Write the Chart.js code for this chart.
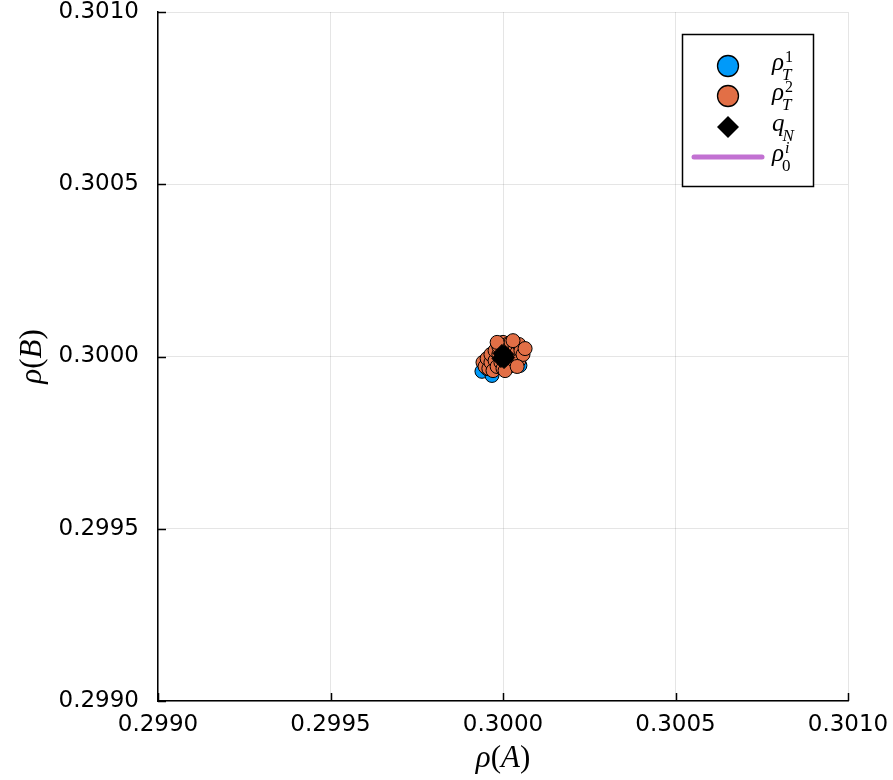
<!DOCTYPE html>
<html>
<head>
<meta charset="utf-8">
<script src="https://cdn.jsdelivr.net/npm/chart.js@4/dist/chart.umd.min.js"></script>
<style>
  html, body { margin: 0; padding: 0; background: #ffffff; }
  canvas { display: block; }
</style>
</head>
<body>
<canvas id="c" width="893" height="780"></canvas>
<script>
// Final-time densities of the two runs, the N-point estimate and the initial state
const rho1X = [0.299939, 0.299968, 0.300049, 0.299954, 0.300000, 0.300023, 0.299983, 0.300035];
const rho1Y = [0.299957, 0.299945, 0.299974, 0.299965, 0.299977, 0.300000, 0.300012, 0.299983];

const rho2X = [0.299942, 0.299948, 0.299954, 0.299959, 0.299965, 0.299965, 0.299971, 0.299977, 0.299977, 0.299983,
               0.299988, 0.299988, 0.299994, 0.300000, 0.300000, 0.300006, 0.300012, 0.300012, 0.300017, 0.300023,
               0.300023, 0.300029, 0.300035, 0.300035, 0.300041, 0.300046, 0.300046, 0.300052, 0.300058, 0.300064,
               0.299983, 0.300006, 0.300029, 0.300041];
const rho2Y = [0.299983, 0.299971, 0.299994, 0.299965, 0.299983, 0.300006, 0.299959, 0.299988, 0.300017, 0.299971,
               0.300006, 0.300029, 0.299983, 0.300041, 0.299965, 0.300012, 0.299988, 0.300035, 0.299971, 0.300017,
               0.300041, 0.299994, 0.300029, 0.299977, 0.300012, 0.300035, 0.299988, 0.300017, 0.300006, 0.300023,
               0.300041, 0.299959, 0.300046, 0.299971];

const qNX = [0.300000, 0.300006, 0.299994, 0.300003, 0.299997, 0.300008];
const qNY = [0.300000, 0.300006, 0.299994, 0.299991, 0.300009, 0.299997];

const rho0X = [0.300000, 0.300000];
const rho0Y = [0.300000, 0.300000];

const xTicks = [0.2990, 0.2995, 0.3000, 0.3005, 0.3010];
const yTicks = [0.2990, 0.2995, 0.3000, 0.3005, 0.3010];

const seriesLabels = [
  { base: 'ρ', sup: '1', sub: 'T' },
  { base: 'ρ', sup: '2', sub: 'T' },
  { base: 'q', sup: '', sub: 'N' },
  { base: 'ρ', sup: 'i', sub: '0' }
];

const BLUE = '#009af9', ORANGE = '#e26f46', BLACK = '#000000', PURPLE = '#c271d2';

const pts = (xs, ys) => xs.map((x, i) => ({ x: x, y: ys[i] }));

const TICK_FONT = { family: 'DejaVu Sans', size: 23, lineHeight: 1 };

const noPad = s => { s.paddingTop = 0; s.paddingBottom = 0; s.paddingLeft = 0; s.paddingRight = 0; };

// Inward ticks, axis titles and the legend box
const decorations = {
  id: 'decorations',
  afterDraw(chart) {
    const ctx = chart.ctx;
    const xs = chart.scales.x, ys = chart.scales.y;
    const area = chart.chartArea;
    ctx.save();
    ctx.strokeStyle = '#000';
    ctx.lineWidth = 1.5;
    ctx.beginPath();
    xTicks.forEach(v => {
      const p = Math.round(xs.getPixelForValue(v)) + 0.5;
      ctx.moveTo(p, area.bottom);
      ctx.lineTo(p, area.bottom - 8);
    });
    yTicks.forEach(v => {
      const p = Math.round(ys.getPixelForValue(v)) + 0.5;
      ctx.moveTo(area.left, p);
      ctx.lineTo(area.left + 8, p);
    });
    ctx.stroke();

    // axis titles: italic symbol, upright parentheses
    const drawMath = (parts, cx, cy) => {
      let total = 0;
      parts.forEach(p => { ctx.font = p[1]; total += ctx.measureText(p[0]).width; });
      let x = cx - total / 2;
      ctx.textBaseline = 'middle';
      ctx.textAlign = 'left';
      parts.forEach(p => { ctx.font = p[1]; ctx.fillText(p[0], x, cy); x += ctx.measureText(p[0]).width; });
    };
    const IT = 'italic 31px "Liberation Serif"', UP = '31px "Liberation Serif"';
    ctx.fillStyle = '#000';
    drawMath([['ρ', IT], ['(', UP], ['A', IT], [')', UP]], (area.left + area.right) / 2, 759);
    ctx.save();
    ctx.translate(33, (area.top + area.bottom) / 2);
    ctx.rotate(-Math.PI / 2);
    drawMath([['ρ', IT], ['(', UP], ['B', IT], [')', UP]], 0, 0);
    ctx.restore();

    // legend
    const bx = 682.5, by = 34.5, bw = 131, bh = 152;
    ctx.fillStyle = '#fff';
    ctx.fillRect(bx, by, bw, bh);
    ctx.lineWidth = 1.5;
    ctx.strokeStyle = '#000';
    ctx.strokeRect(bx, by, bw, bh);
    const rows = [66, 96, 127, 157];
    const mx = 728;
    chart.data.datasets.forEach((ds, i) => {
      const cy = rows[i];
      if (i < 2) {
        ctx.beginPath();
        ctx.arc(mx, cy, 10.5, 0, Math.PI * 2);
        ctx.fillStyle = ds.backgroundColor;
        ctx.fill();
        ctx.lineWidth = 1.3;
        ctx.strokeStyle = '#000';
        ctx.stroke();
      } else if (i === 2) {
        ctx.beginPath();
        ctx.moveTo(mx - 11, cy); ctx.lineTo(mx, cy - 11); ctx.lineTo(mx + 11, cy); ctx.lineTo(mx, cy + 11);
        ctx.closePath();
        ctx.fillStyle = '#000';
        ctx.fill();
      } else {
        ctx.beginPath();
        ctx.moveTo(694, cy); ctx.lineTo(762, cy);
        ctx.lineWidth = 5;
        ctx.lineCap = 'round';
        ctx.strokeStyle = ds.borderColor;
        ctx.stroke();
      }
      const lab = seriesLabels[i];
      ctx.fillStyle = '#000';
      ctx.textAlign = 'left';
      ctx.textBaseline = 'alphabetic';
      ctx.font = 'italic 25px "Liberation Serif"';
      ctx.fillText(lab.base, 772, cy + 4);
      const w = ctx.measureText(lab.base).width;
      if (lab.sup) {
        ctx.font = (lab.sup === 'i' ? 'italic ' : '') + '16px "Liberation Serif"';
        ctx.fillText(lab.sup, 772 + w + 1, cy - 4);
      }
      ctx.font = (/[A-Z]/.test(lab.sub) ? 'italic ' : '') + '17px "Liberation Serif"';
      ctx.fillText(lab.sub, 772 + w - 2, cy + 14);
    });
    ctx.restore();
  }
};

new Chart(document.getElementById('c'), {
  type: 'scatter',
  data: {
    datasets: [
      { label: 'rho1T', data: pts(rho1X, rho1Y), backgroundColor: BLUE, borderColor: BLACK,
        borderWidth: 1, pointRadius: 7, pointHoverRadius: 7, order: 3 },
      { label: 'rho2T', data: pts(rho2X, rho2Y), backgroundColor: ORANGE, borderColor: BLACK,
        borderWidth: 1, pointRadius: 7, pointHoverRadius: 7, order: 2 },
      { label: 'qN', data: pts(qNX, qNY), backgroundColor: BLACK, borderColor: BLACK,
        borderWidth: 1, pointStyle: 'rectRot', pointRadius: 9, pointHoverRadius: 9, order: 1 },
      { label: 'rho0', data: pts(rho0X, rho0Y), type: 'line', showLine: true, backgroundColor: PURPLE,
        borderColor: PURPLE, borderWidth: 4, pointRadius: 0, order: 0 }
    ]
  },
  options: {
    responsive: false,
    animation: false,
    events: [],
    layout: { padding: { top: 12, right: 45, left: 0, bottom: 0 } },
    plugins: { legend: { display: false }, tooltip: { enabled: false } },
    scales: {
      x: {
        type: 'linear', min: 0.299, max: 0.301,
        afterBuildTicks: s => { s.ticks = xTicks.map(v => ({ value: v })); },
        afterFit: s => { s.height = 79; noPad(s); },
        ticks: { callback: v => Number(v).toFixed(4), font: TICK_FONT, color: '#000', padding: 13, maxRotation: 0 },
        grid: { color: 'rgba(0,0,0,0.1)', lineWidth: 1, drawTicks: false },
        border: { color: '#000', width: 1.5 }
      },
      y: {
        type: 'linear', min: 0.299, max: 0.301,
        afterBuildTicks: s => { s.ticks = yTicks.map(v => ({ value: v })); },
        afterFit: s => { s.width = 158; noPad(s); },
        ticks: { callback: v => Number(v).toFixed(4), font: TICK_FONT, color: '#000', padding: 19 },
        grid: { color: 'rgba(0,0,0,0.1)', lineWidth: 1, drawTicks: false },
        border: { color: '#000', width: 1.5 }
      }
    }
  },
  plugins: [decorations]
});
</script>
</body>
</html>
